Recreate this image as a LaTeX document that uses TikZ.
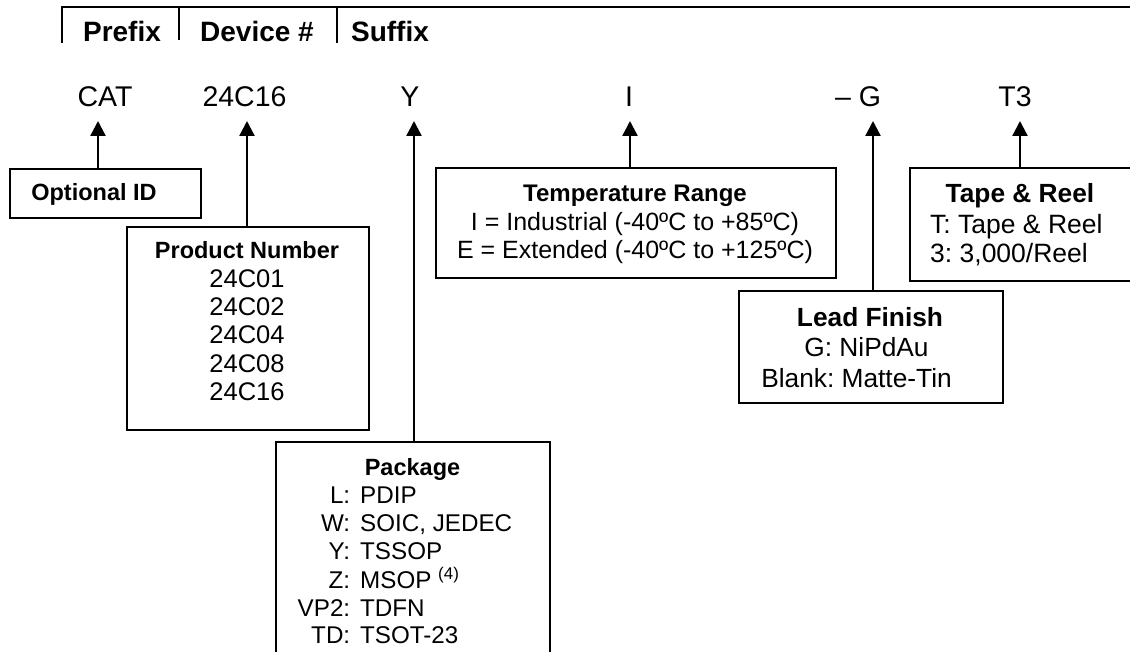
\documentclass[tikz,border=0pt]{standalone}
\usepackage{fontspec}
\setmainfont{Liberation Sans}
\usetikzlibrary{arrows.meta}
\frenchspacing
\tikzset{
  frame/.style={draw, line width=2.3pt, inner sep=0pt, anchor=north west},
  arr/.style={line width=2.3pt, -{Triangle[width=15pt,length=15pt]}},
  hline/.style={line width=2pt},
  txt/.style={inner sep=0pt, anchor=base},
  hdr/.style={txt, font=\fontsize{28}{32}\selectfont\bfseries},
  code/.style={txt, font=\fontsize{28.5}{32}\selectfont},
  ttl/.style={txt, font=\fontsize{23.5}{28}\selectfont\bfseries},
  big/.style={txt, font=\fontsize{26.3}{30}\selectfont},
  bigttl/.style={txt, font=\fontsize{26.3}{30}\selectfont\bfseries},
  tab/.style={inner sep=0pt}
}
\begin{document}
\begin{tikzpicture}[x=1pt,y=-1pt]
\useasboundingbox (0,0) rectangle (1130,652);
% header
\coordinate (h0) at (61,7);
\coordinate (h1) at (1135,7);
\coordinate (v1b) at (62,43);
\coordinate (v2b) at (179,40);
\coordinate (v3b) at (337,43);
\draw[hline] (h0) -- (h1);
\draw[hline] (v1b |- h0) -- (v1b);
\draw[hline] (v2b |- h0) -- (v2b);
\draw[hline] (v3b |- h0) -- (v3b);
\node[hdr] (pre) at (122,42) {Prefix};
\node[hdr] (dev) at (257,42) {Device \#};
\node[hdr] (suf) at (390,42) {Suffix};
% code row
\node[code] (cat) at (105,107) {CAT};
\node[code] (num) at (244.5,107) {24C16};
\node[code] (y) at (410,107) {Y};
\node[code] (i) at (629,107) {I};
\node[code] (g) at (858,107) {\textendash\ G};
\node[code] (t3) at (1015,107) {T3};
% arrow tips
\coordinate (tcat) at (98,121);
\coordinate (tnum) at (247,121);
\coordinate (ty) at (414,121);
\coordinate (ti) at (630,121);
\coordinate (tg) at (873,121);
\coordinate (tt) at (1020,121);
% boxes
\node[frame, minimum width=191pt, minimum height=49pt] (opt) at (9,168) {};
\node[frame, minimum width=242pt, minimum height=203pt] (pn) at (126,226) {};
\node[frame, minimum width=274pt, minimum height=230pt] (pkg) at (275,441) {};
\node[frame, minimum width=400pt, minimum height=110pt] (tmp) at (435,167) {};
\node[frame, minimum width=264pt, minimum height=112pt] (lf) at (738,290) {};
\node[frame, minimum width=240pt, minimum height=113pt] (tr) at (909,167) {};
% arrows
\draw[arr] (opt.north -| tcat) -- (tcat);
\draw[arr] (pn.north -| tnum) -- (tnum);
\draw[arr] (pkg.north -| ty) -- (ty);
\draw[arr] (tmp.north -| ti) -- (ti);
\draw[arr] (lf.north -| tg) -- (tg);
\draw[arr] (tr.north -| tt) -- (tt);
% box texts
\node[ttl] (optt) at (94,200.4) {Optional ID};
\node[tab, anchor=north] (pnt) at (247,238.7) {\fontsize{25.5}{28.4}\selectfont
  \begin{tabular}{@{}c@{}}
  {\fontsize{23.5}{28.4}\selectfont\bfseries Product Number}\\
  24C01\\ 24C02\\ 24C04\\ 24C08\\ 24C16
  \end{tabular}};
\node[ttl] (pkgt) at (412.5,475.4) {Package};
\node[tab, anchor=north west] (pkgl) at (290,484.4) {\fontsize{24.2}{27.6}\selectfont
  \begin{tabular}{@{}l@{\hspace{10pt}}l@{}}
  \makebox[60pt][r]{L:} & PDIP\\
  \makebox[60pt][r]{W:} & SOIC, JEDEC\\
  \makebox[60pt][r]{Y:} & TSSOP\\
  \makebox[60pt][r]{Z:} & MSOP \textsuperscript{(4)}\\
  \makebox[60pt][r]{VP2:} & TDFN\\
  \makebox[60pt][r]{TD:} & TSOT-23
  \end{tabular}};
\node[tab, anchor=north] (tmpt) at (635,181.6) {\fontsize{25}{28.5}\selectfont
  \begin{tabular}{@{}c@{}}
  {\fontsize{24}{28.5}\selectfont\bfseries Temperature Range}\\
  I = Industrial (-40ºC to +85ºC)\\
  E = Extended (-40ºC to +125ºC)
  \end{tabular}};
\node[bigttl] (lf1) at (870,326.4) {Lead Finish};
\node[big] (lf2) at (866.5,356.4) {G: NiPdAu};
\node[big] (lf3) at (856.5,387.4) {Blank: Matte-Tin};
\node[bigttl] (trt) at (1020,202.3) {Tape \& Reel};
\node[tab, anchor=north west] (trb) at (930,213.2) {\fontsize{26.5}{29}\selectfont
  \begin{tabular}{@{}l@{}}
  T: Tape \& Reel\\
  3: 3,000/Reel
  \end{tabular}};
\end{tikzpicture}
\end{document}
